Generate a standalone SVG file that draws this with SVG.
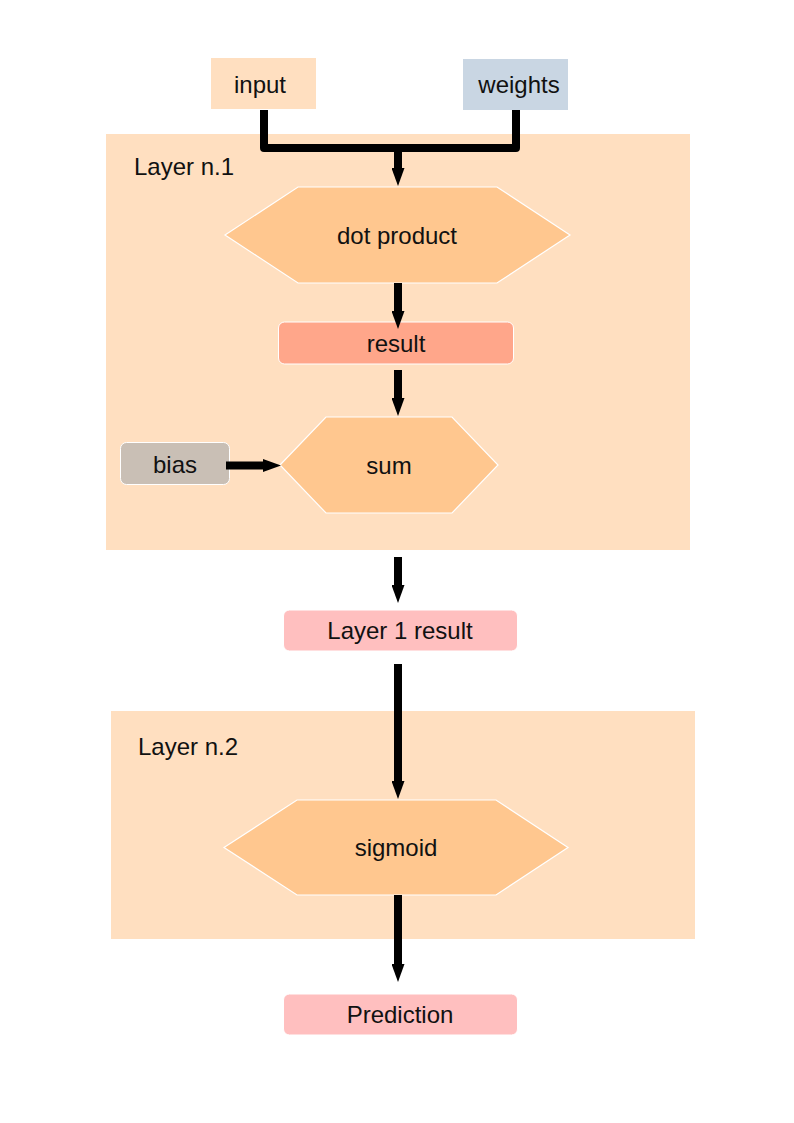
<svg xmlns="http://www.w3.org/2000/svg" width="794" height="1123" viewBox="0 0 794 1123">
<defs>
<style>
text{font-family:"Liberation Sans",Arial,sans-serif;font-size:24px;fill:#111;}
.c{text-anchor:middle;dominant-baseline:central;}
.panel{fill:#ffdfc0;}
.hex{fill:#ffc78f;stroke:#ffffff;stroke-width:1.2;}
.wire{fill:none;stroke:#000;stroke-width:8;}
</style>
<marker id="ah" markerUnits="userSpaceOnUse" markerWidth="18" markerHeight="13" refX="2" refY="6.5" orient="auto">
<path d="M0,0 L18,6.5 L0,13 z" fill="#000"/>
</marker>
</defs>
<rect width="794" height="1123" fill="#fff"/>
<g id="layer1">
<rect class="panel" x="106" y="134" width="584" height="416"/>
<text x="134" y="175">Layer n.1</text>
</g>
<g id="layer2">
<rect class="panel" x="111" y="711" width="584" height="228"/>
<text x="138" y="755">Layer n.2</text>
</g>
<g id="input">
<rect x="211" y="58" width="105" height="51" fill="#ffdfc0"/>
<text class="c" x="260" y="84">input</text>
</g>
<g id="weights">
<rect x="463" y="59" width="105" height="51" fill="#c9d6e3"/>
<text class="c" x="519" y="84.5">weights</text>
</g>
<g id="dotproduct">
<polygon class="hex" points="225,235 298,187 497,187 570,235 497,283 298,283"/>
<text class="c" x="397" y="235">dot product</text>
</g>
<g id="result">
<rect x="278.5" y="322" width="235" height="42" rx="6" fill="#ffa68a" stroke="#fff" stroke-width="1"/>
<text class="c" x="396" y="343">result</text>
</g>
<g id="bias">
<rect x="120.5" y="442.5" width="109" height="42" rx="6" fill="#c9bfb5" stroke="#fff" stroke-width="1"/>
<text class="c" x="175" y="464">bias</text>
</g>
<g id="sum">
<polygon class="hex" points="280,465 326,417 452,417 498,465 452,513 326,513"/>
<text class="c" x="389" y="465">sum</text>
</g>
<g id="layer1result">
<rect x="283.5" y="610" width="234" height="41" rx="6" fill="#ffbfbf" stroke="#fff" stroke-width="1"/>
<text class="c" x="400" y="630.5">Layer 1 result</text>
</g>
<g id="sigmoid">
<polygon class="hex" points="224,847.5 297,800 496,800 568,847.5 496,895 297,895"/>
<text class="c" x="396" y="847.5">sigmoid</text>
</g>
<g id="prediction">
<rect x="283.5" y="994" width="234" height="41" rx="6" fill="#ffbfbf" stroke="#fff" stroke-width="1"/>
<text class="c" x="400" y="1014.5">Prediction</text>
</g>
<g id="connectors">
<path class="wire" d="M264,110 V148 H516 V110" stroke-linejoin="round"/>
<path class="wire" d="M398,148 V170" marker-end="url(#ah)"/>
<path class="wire" d="M398,283 V313" marker-end="url(#ah)"/>
<path class="wire" d="M398,370 V400" marker-end="url(#ah)"/>
<path class="wire" d="M226,465.5 H265" stroke-width="7" marker-end="url(#ah)"/>
<path class="wire" d="M398,557 V587" marker-end="url(#ah)"/>
<path class="wire" d="M398,664 V783" marker-end="url(#ah)"/>
<path class="wire" d="M398,895 V966" marker-end="url(#ah)"/>
</g>
</svg>
